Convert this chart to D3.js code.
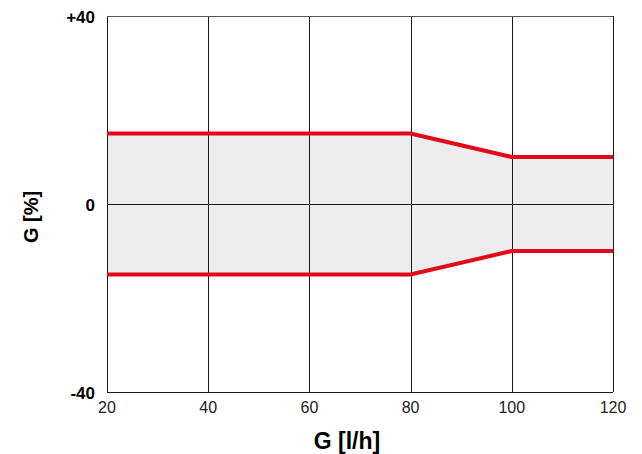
<!DOCTYPE html>
<meta charset="utf-8">
<style>
  body { margin: 0; background: #fff; }
  text { font-family: "Liberation Sans", Arial, sans-serif; }
</style>
<body>
<script src="https://cdn.jsdelivr.net/npm/d3@7"></script>
<script>
// data
var flow = [20, 40, 60, 80, 100, 120];
var upper = [15, 15, 15, 15, 10, 10];
var lower = [-15, -15, -15, -15, -10, -10];
var xTicks = [20, 40, 60, 80, 100, 120];
var yTicks = [-40, 0, 40];
var yTickLabels = ["-40", "0", "+40"];

var W = 642, H = 454;
var margin = {top: 16, right: 29, bottom: 62, left: 107},
  width = W - margin.left - margin.right,
  height = H - margin.top - margin.bottom;

var svg = d3.select("body").append("svg")
    .attr("width", W)
    .attr("height", H);
var g = svg.append("g")
    .attr("transform", "translate(" + margin.left + "," + margin.top + ")");

var x = d3.scaleLinear().domain([20, 120]).range([0, width]);
var y = d3.scaleLinear().domain([-40, 40]).range([height, 0]);

var rows = flow.map(function(f, i) { return {f: f, hi: upper[i], lo: lower[i]}; });

// grey tolerance band
g.append("path")
    .datum(rows)
    .attr("d", d3.area()
        .x(function(d) { return x(d.f); })
        .y0(function(d) { return y(d.lo); })
        .y1(function(d) { return y(d.hi); }))
    .style("fill", "#ececec");

// grid
g.selectAll(".vgrid")
    .data(xTicks)
    .enter().append("line")
    .attr("x1", function(d) { return Math.round(x(d)) + 0.5; })
    .attr("x2", function(d) { return Math.round(x(d)) + 0.5; })
    .attr("y1", 0).attr("y2", height)
    .style("stroke", "#1a1a1a").style("stroke-width", 1);
g.selectAll(".hgrid")
    .data(yTicks)
    .enter().append("line")
    .attr("x1", 0).attr("x2", width)
    .attr("y1", function(d) { return Math.round(y(d)) + 0.5; })
    .attr("y2", function(d) { return Math.round(y(d)) + 0.5; })
    .style("stroke", function(d) { return d == 40 ? "#555" : "#1a1a1a"; })
    .style("stroke-width", 1);

// red limit lines
[upper, lower].forEach(function(vals) {
    g.append("path")
        .datum(flow.map(function(f, i) { return [f, vals[i]]; }))
        .attr("d", d3.line()
            .x(function(d) { return x(d[0]); })
            .y(function(d) { return y(d[1]); }))
        .style("fill", "none")
        .style("stroke", "#e30a17")
        .style("stroke-width", 4);
});

// x tick labels
g.selectAll(".xlab")
    .data(xTicks)
    .enter().append("text")
    .attr("x", function(d) { return x(d); })
    .attr("y", height + 21)
    .attr("text-anchor", "middle")
    .style("font-size", "16px")
    .style("fill", "#222")
    .text(function(d) { return d; });

// y tick labels
g.selectAll(".ylab")
    .data(yTicks)
    .enter().append("text")
    .attr("x", -12)
    .attr("y", function(d) { return y(d) + 7; })
    .attr("text-anchor", "end")
    .style("font-size", "17px")
    .style("font-weight", "bold")
    .style("fill", "#000")
    .text(function(d, i) { return yTickLabels[i]; });

// axis titles
svg.append("text")
    .attr("x", 347)
    .attr("y", 449)
    .attr("text-anchor", "middle")
    .style("font-size", "23px")
    .style("font-weight", "bold")
    .text("G [l/h]");

svg.append("text")
    .attr("transform", "translate(38," + 217 + ") rotate(-90)")
    .attr("text-anchor", "middle")
    .style("font-size", "20px")
    .style("font-weight", "bold")
    .text("G [%]");
</script>
</body>
